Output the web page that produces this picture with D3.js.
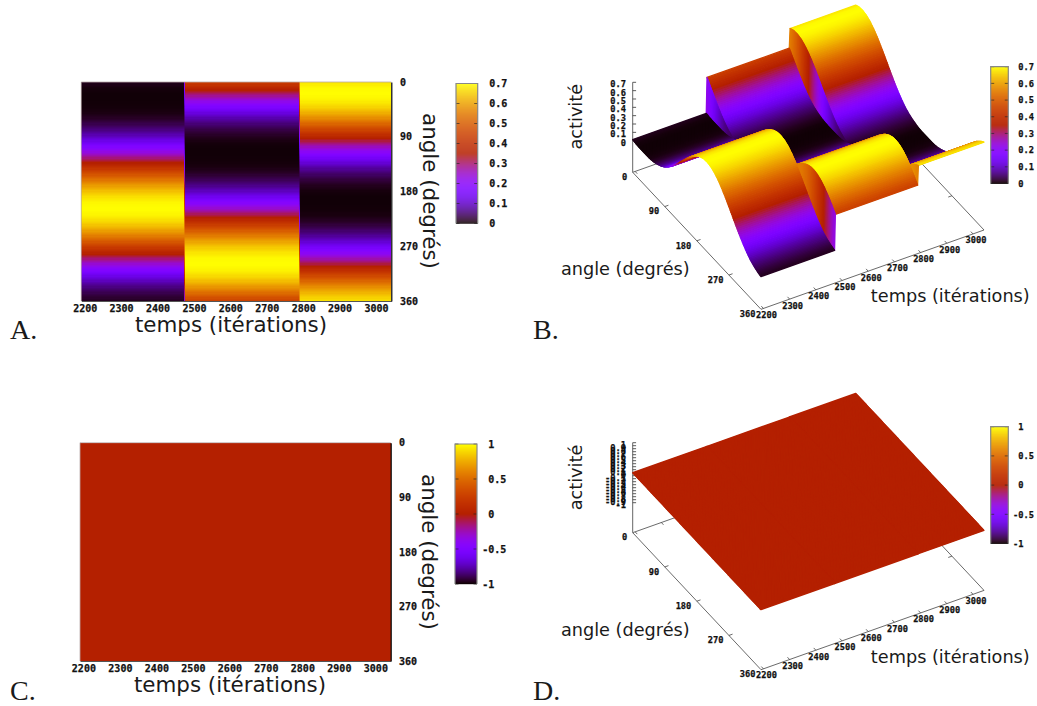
<!DOCTYPE html>
<html>
<head>
<meta charset="utf-8">
<script src="https://cdn.jsdelivr.net/npm/d3@7"></script>
<style>
html,body{margin:0;padding:0;background:#fff}
svg{display:block}
.tick-label{font-family:"DejaVu Sans Mono",monospace;font-weight:bold;fill:#111;stroke:#111;stroke-width:.25px}
.axis-title{font-family:"DejaVu Sans",sans-serif;fill:#1a1a1a}
.panel-letter{font-family:"Liberation Serif",serif;fill:#1a1a1a}
</style>
</head>
<body>
<svg id="chart" width="1037" height="706"></svg>
<script>
// ---------- data ----------
const angleSamples = d3.range(0, 361, 10);
const profileEpoch1 = [.013,.005,.003,.003,.004,.007,.017,.036,.061,.096,.142,.198,.260,.329,.399,.468,.533,.592,.639,.674,.695,.699,.688,.662,.621,.569,.508,.441,.371,.301,.235,.175,.123,.080,.050,.028,.013];
const profileEpoch2 = [.441,.371,.301,.235,.175,.123,.080,.050,.028,.013,.005,.003,.003,.004,.007,.017,.036,.061,.096,.142,.198,.260,.329,.399,.468,.533,.592,.639,.674,.695,.699,.688,.662,.621,.569,.508,.441];
const profileEpoch3 = [.674,.695,.699,.688,.662,.621,.569,.508,.441,.371,.301,.235,.175,.123,.080,.050,.028,.013,.005,.003,.003,.004,.007,.017,.036,.061,.096,.142,.198,.260,.329,.399,.468,.533,.592,.639,.674];
const profileZero = angleSamples.map(() => 0);
const timeEdges = [2190.7, 2471.5, 2474.5, 2788.5, 2791.5, 3042];
const timeTicks = [2200,2300,2400,2500,2600,2700,2800,2900,3000];
const angleTicks = [0,90,180,270,360];
const activityTicks = [0,.1,.2,.3,.4,.5,.6,.7];
const signedTicks = [-1,-.5,0,.5,1];
const denseTicks = [-1,-.9,-.8,-.7,-.6,-.5,-.4,-.3,-.2,-.1,0,.1,.2,.3,.4,.5,.6,.7,.8,.9,1];
const labelTemps = "temps (itérations)", labelAngle = "angle (degrés)", labelActivite = "activité";
const edgeProfilesAB = [profileEpoch1,profileEpoch1,profileEpoch2,profileEpoch2,profileEpoch3,profileEpoch3];
const edgeProfilesCD = [profileZero,profileZero,profileZero,profileZero,profileZero,profileZero];

// ---------- palette (gnuplot rgbformulae 7,5,15) ----------
function palette(x){
  x = Math.max(0, Math.min(1, x));
  return d3.rgb(255*Math.sqrt(x), 255*x*x*x, 255*Math.max(0, Math.sin(2*Math.PI*x))).formatRgb();
}
const svg = d3.select("#chart");
const timeDomain = [timeEdges[0], timeEdges[timeEdges.length-1]];
const rowStep = 2;
const rowAngles = d3.range(0, 360, rowStep);

function cellsFrom(edgeProfiles){
  const fns = edgeProfiles.map(p => d3.scaleLinear().domain(angleSamples).range(p));
  const cells = [];
  for (let i = edgeProfiles.length-2; i >= 0; i--) {
    rowAngles.forEach(a => {
      const b = a + rowStep;
      const z = [fns[i](a), fns[i+1](a), fns[i+1](b), fns[i](b)];
      cells.push({t0: timeEdges[i], t1: timeEdges[i+1], a, b, z, mean: d3.mean(z)});
    });
  }
  return cells;
}

function styleTicks(g, size){
  g.selectAll("text").attr("class","tick-label").attr("font-size",size).attr("font-family",null).attr("fill",null);
}

function colorbar(o){
  const g = svg.append("g");
  const y = d3.scaleLinear().domain(o.domain).range([o.y1,o.y0]);
  const rows = d3.range(o.y0, o.y1, 1);
  g.selectAll("rect.c").data(rows).join("rect").attr("class","c")
    .attr("x",o.x0).attr("width",o.x1-o.x0).attr("y",d=>d).attr("height",1.2)
    .attr("fill",d=>palette((y.invert(d+.5)-o.domain[0])/(o.domain[1]-o.domain[0])));
  g.selectAll("line.t").data(o.ticks.flatMap(v=>[[v,o.x0,o.x0+3.5],[v,o.x1-3.5,o.x1]])).join("line").attr("class","t")
    .attr("x1",d=>d[1]).attr("x2",d=>d[2]).attr("y1",d=>y(d[0])).attr("y2",d=>y(d[0]))
    .attr("stroke","#222").attr("stroke-opacity",.7).attr("stroke-width",.9);
  g.append("path").attr("d",`M${o.x0},${o.y1}V${o.y0}H${o.x1}V${o.y1}`)
    .attr("fill","none").attr("stroke","#888").attr("stroke-width",1.2);
  const ax = g.append("g").attr("transform",`translate(${o.x1},0)`)
    .call(d3.axisRight(y).tickValues(o.ticks).tickSize(0).tickPadding(o.labelX-o.x1).tickFormat(String));
  ax.select(".domain").remove();
  styleTicks(ax,o.font);
  ax.selectAll("text").attr("dx",d=>d<0?-o.font*.6:0);
}

function map2D(o){
  const g = svg.append("g");
  const x = d3.scaleLinear().domain(timeDomain).range([o.x0,o.x1]);
  const y = d3.scaleLinear().domain([0,360]).range([o.y0,o.y1]);
  g.selectAll("rect.cell").data(cellsFrom(o.edges)).join("rect").attr("class","cell")
    .attr("x",d=>x(d.t0)).attr("width",d=>x(d.t1)-x(d.t0))
    .attr("y",d=>y(d.a)).attr("height",d=>y(d.b)-y(d.a)+.4)
    .attr("fill",d=>palette((d.mean-o.zmin)/(o.zmax-o.zmin)))
    .attr("shape-rendering","crispEdges");
  g.append("path").attr("d",`M${o.x0},${o.y1}V${o.y0}H${o.x1}`).attr("fill","none").attr("stroke","#b9a9a9").attr("stroke-width",.8);
  const bottom = g.append("g").attr("transform",`translate(0,${o.y1})`)
    .call(d3.axisBottom(x).tickValues(timeTicks).tickSize(0).tickPadding(4.2).tickFormat(String));
  bottom.select(".domain").attr("stroke","#555").attr("stroke-width",1);
  styleTicks(bottom,10);
  const right = g.append("g").attr("transform",`translate(${o.x1},0)`)
    .call(d3.axisRight(y).tickValues(angleTicks).tickSize(0).tickPadding(o.labelX-o.x1).tickFormat(String));
  right.select(".domain").attr("stroke","#000").attr("stroke-width",1.2);
  styleTicks(right,10);
  svg.append("text").attr("class","axis-title").attr("font-size",21.4).attr("text-anchor","middle")
    .attr("x",o.tempsX).attr("y",o.tempsY).text(labelTemps);
  svg.append("text").attr("class","axis-title").attr("font-size",21.4).attr("text-anchor","middle")
    .attr("transform",`translate(${o.angleX},${o.angleY}) rotate(90)`).text(labelAngle);
}

function surface3D(o){
  const g = svg.append("g");
  const tx = d3.scaleLinear().domain(timeDomain).range([0,223]);
  const ty = d3.scaleLinear().domain(timeDomain).range([0,-79.3]);
  const ax = d3.scaleLinear().domain([0,360]).range([0,128.3]);
  const ay = d3.scaleLinear().domain([0,360]).range([0,137]);
  const zy = d3.scaleLinear().domain(o.zDomain).range(o.zRange);
  const px = (t,a)=>o.cornerX+tx(t)+ax(a);
  const py = (t,a)=>ty(t)+ay(a);
  const P = (t,a,z)=>[px(t,a), py(t,a)+zy(z)];
  const F = (t,a)=>[px(t,a), py(t,a)+o.floorY];
  const T0 = timeDomain[0], T1 = timeDomain[1];
  const line = d3.line();
  // floor frame
  const frame = [F(T0,0),F(T1,0),F(T1,360),F(T0,360),F(T0,0)];
  g.append("path").attr("d",line(frame)).attr("fill","none").attr("stroke","#444").attr("stroke-width",.8);
  // time ticks, both edges
  const tickSegs = [];
  timeTicks.forEach(t=>{ tickSegs.push([F(t,360),F(t,354)]); tickSegs.push([F(t,0),F(t,6)]); });
  angleTicks.slice(1,4).forEach(a=>{ tickSegs.push([F(T0,a),F(T0+14,a)]); tickSegs.push([F(T1,a),F(T1-14,a)]); });
  g.selectAll("path.tk").data(tickSegs).join("path").attr("class","tk").attr("d",d=>line(d))
    .attr("fill","none").attr("stroke","#444").attr("stroke-width",.8);
  // labels on the floor
  g.selectAll("text.tl").data(timeTicks).join("text").attr("class","tick-label tl")
    .attr("font-size",8.7).attr("text-anchor","middle").attr("dominant-baseline","central")
    .attr("x",d=>F(d,360)[0]+3).attr("y",d=>F(d,360)[1]+6.5).text(String);
  g.selectAll("text.al").data(angleTicks).join("text").attr("class","tick-label al")
    .attr("font-size",8.7).attr("text-anchor","end").attr("dominant-baseline","central")
    .attr("x",d=>F(T0,d)[0]-5.5).attr("y",d=>F(T0,d)[1]+4.7).text(String);
  // vertical axis
  const zTop = zy(o.zDomain[1]);
  g.append("path").attr("d",`M${o.cornerX},${o.floorY}V${zTop}`).attr("stroke","#666").attr("stroke-width",1).attr("fill","none");
  g.selectAll("path.zt").data(o.zTicks).join("path").attr("class","zt")
    .attr("d",d=>`M${o.cornerX},${zy(d)}h3.4`).attr("stroke","#333").attr("stroke-width",.8).attr("fill","none");
  g.selectAll("text.zl").data(o.zTicks).join("text").attr("class","tick-label zl")
    .attr("font-size",8.7).attr("text-anchor","end").attr("dominant-baseline","central")
    .attr("x",o.cornerX-6.7).attr("y",d=>zy(d)+2).text(d=>String(d));
  // surface, back to front
  g.selectAll("path.q").data(cellsFrom(o.edges)).join("path").attr("class","q")
    .attr("d",d=>line([P(d.t0,d.a,d.z[0]),P(d.t1,d.a,d.z[1]),P(d.t1,d.b,d.z[2]),P(d.t0,d.b,d.z[3])])+"Z")
    .attr("fill",d=>palette((d.mean-o.cmin)/(o.cmax-o.cmin)))
    .attr("stroke",d=>palette((d.mean-o.cmin)/(o.cmax-o.cmin)))
    .attr("stroke-width",1.3).attr("stroke-linejoin","round");
  svg.append("text").attr("class","axis-title").attr("font-size",17.7).attr("text-anchor","middle")
    .attr("x",950.3).attr("y",o.tempsY).text(labelTemps);
  svg.append("text").attr("class","axis-title").attr("font-size",17.7).attr("text-anchor","middle")
    .attr("x",625.3).attr("y",o.angleY).text(labelAngle);
  svg.append("text").attr("class","axis-title").attr("font-size",17.7).attr("text-anchor","middle")
    .attr("transform",`translate(581.7,${o.activY}) rotate(-90)`).text(labelActivite);
}

// Panel A
map2D({edges:edgeProfilesAB,x0:81.3,x1:391.3,y0:82,y1:301,zmin:0,zmax:.7,labelX:400,tempsX:231,tempsY:331.5,angleX:423,angleY:191});
colorbar({domain:[0,.7],ticks:activityTicks,x0:456,x1:477.7,y0:83.5,y1:223.5,labelX:489.3,font:10});
// Panel C
map2D({edges:edgeProfilesCD,x0:80,x1:390.7,y0:442.7,y1:661,zmin:-1,zmax:1,labelX:399,tempsX:230,tempsY:691.5,angleX:422,angleY:552});
colorbar({domain:[-1,1],ticks:signedTicks,x0:455,x1:477,y0:444,y1:584,labelX:488.3,font:10});
// Panel B
surface3D({edges:edgeProfilesAB,cornerX:632.7,floorY:172.3,zDomain:[0,.7],zRange:[140.7,82.3],zTicks:activityTicks,cmin:0,cmax:.7,tempsY:301.7,angleY:275,activY:116.7});
colorbar({domain:[0,.7],ticks:activityTicks,x0:990.7,x1:1008.3,y0:66.7,y1:183.5,labelX:1018.3,font:8.7});
// Panel D
surface3D({edges:edgeProfilesCD,cornerX:632.7,floorY:532.7,zDomain:[-1,1],zRange:[502.7,442.7],zTicks:denseTicks,cmin:-1,cmax:1,tempsY:663.3,angleY:636,activY:477.5});
colorbar({domain:[-1,1],ticks:signedTicks,x0:990.7,x1:1008.3,y0:426.7,y1:543.5,labelX:1018.3,font:8.7});

// Panel letters
[["A.",10,339.3],["B.",533,339.3],["C.",10,700],["D.",533,700]].forEach(d=>{
  svg.append("text").attr("class","panel-letter").attr("font-size",28).attr("x",d[1]).attr("y",d[2]).text(d[0]);
});
</script>
</body>
</html>
